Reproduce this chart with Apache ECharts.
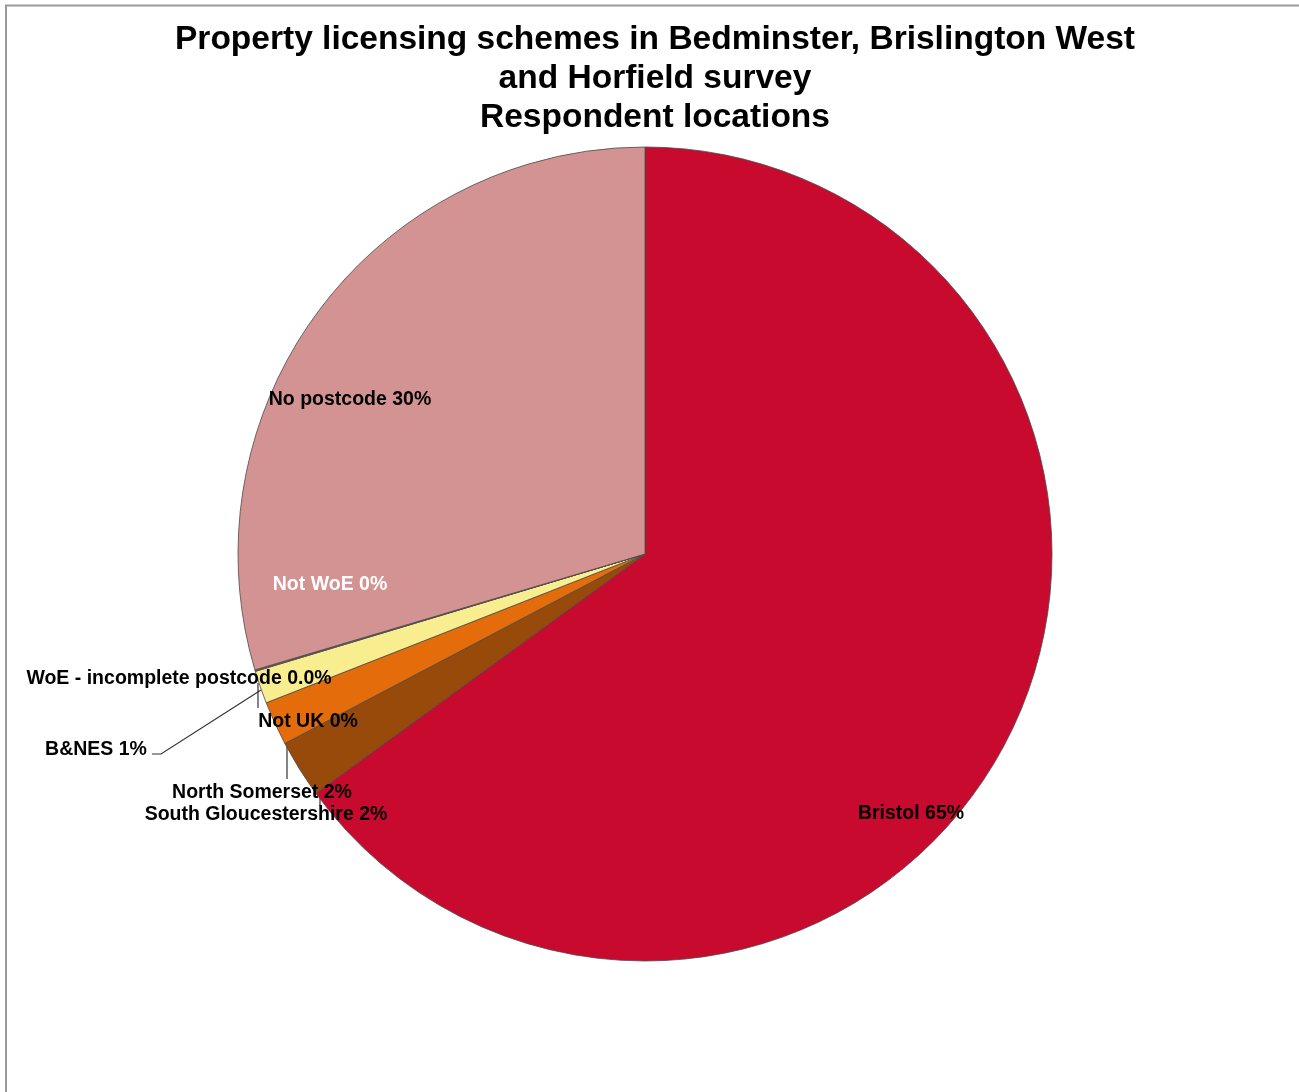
<!DOCTYPE html>
<html>
<head>
<meta charset="utf-8">
<script src="https://cdn.jsdelivr.net/npm/echarts@6/dist/echarts.min.js"></script>
<style>
html,body{margin:0;padding:0;background:#fff;overflow:hidden;}
#chart{width:1310px;height:1092px;}
</style>
</head>
<body>
<div id="chart"></div>
<script>
// Data (percent of respondents), clockwise from 12 o'clock
const categories = ['Bristol', 'South Gloucestershire', 'North Somerset', 'B&NES',
  'Not UK', 'WoE - incomplete postcode', 'Not WoE', 'No postcode'];
const values = [65.0, 2.3, 1.75, 1.3, 0.02, 0.02, 0.02, 29.6];
const labelDecimals = [0, 0, 0, 0, 0, 1, 0, 0];
const titleLines = ['Property licensing schemes in Bedminster, Brislington West',
  'and Horfield survey', 'Respondent locations'];

const colors = ['#C80A2E', '#974A0A', '#E46C0A', '#F9EE8F', '#F9EE8F', '#F9EE8F', '#D39393', '#D39393'];
const labelColors = ['#000', '#000', '#000', '#000', '#000', '#000', '#fff', '#000'];
// label layout (centre of text) and leader lines
const labelPos = [
  [911, 814], [266, 815], [262, 793], [96, 750],
  [308, 722], [179, 679], [330, 585], [350, 400]
];
const leaderLines = [
  null,
  [[320, 790], [320, 806]],
  [[287, 744], [287, 779]],
  [[261, 690], [161, 754], [152, 754]],
  [[258, 683], [258, 708]],
  null, null, null
];

const chart = echarts.init(document.getElementById('chart'), null, {renderer: 'canvas'});
const FONT = '"Liberation Sans", Arial, sans-serif';

chart.setOption({
  animation: false,
  backgroundColor: '#fff',
  title: {
    text: titleLines.join('\n'),
    left: 'center',
    top: 20,
    padding: 0,
    textStyle: {
      fontFamily: FONT, fontWeight: 'bold', fontSize: 33.5, lineHeight: 39, color: '#000'
    }
  },
  graphic: [{
    type: 'rect', silent: true, z: -1,
    shape: {x: 6, y: 5.5, width: 1400, height: 1200},
    style: {fill: null, stroke: '#9a9a9a', lineWidth: 2}
  }],
  series: [{
    type: 'pie',
    center: [645, 554],
    radius: 407,
    startAngle: 90,
    clockwise: true,
    avoidLabelOverlap: false,
    itemStyle: {borderColor: '#4a4a4a', borderWidth: 0.8},
    label: {
      show: true,
      position: 'outside',
      fontFamily: FONT, fontWeight: 'bold', fontSize: 19.5,
      formatter: p => p.name + ' ' + p.percent.toFixed(labelDecimals[p.dataIndex]) + '%'
    },
    labelLine: {show: true, lineStyle: {color: '#333', width: 1.2}},
    labelLayout: function (params) {
      const i = params.dataIndex;
      const res = {x: labelPos[i][0], y: labelPos[i][1], align: 'center', verticalAlign: 'middle'};
      if (leaderLines[i]) res.labelLinePoints = leaderLines[i];
      return res;
    },
    data: categories.map((c, i) => ({
      name: c,
      value: values[i],
      itemStyle: {color: colors[i]},
      label: {color: labelColors[i]},
      labelLine: {show: !!leaderLines[i]}
    }))
  }]
});
</script>
</body>
</html>
